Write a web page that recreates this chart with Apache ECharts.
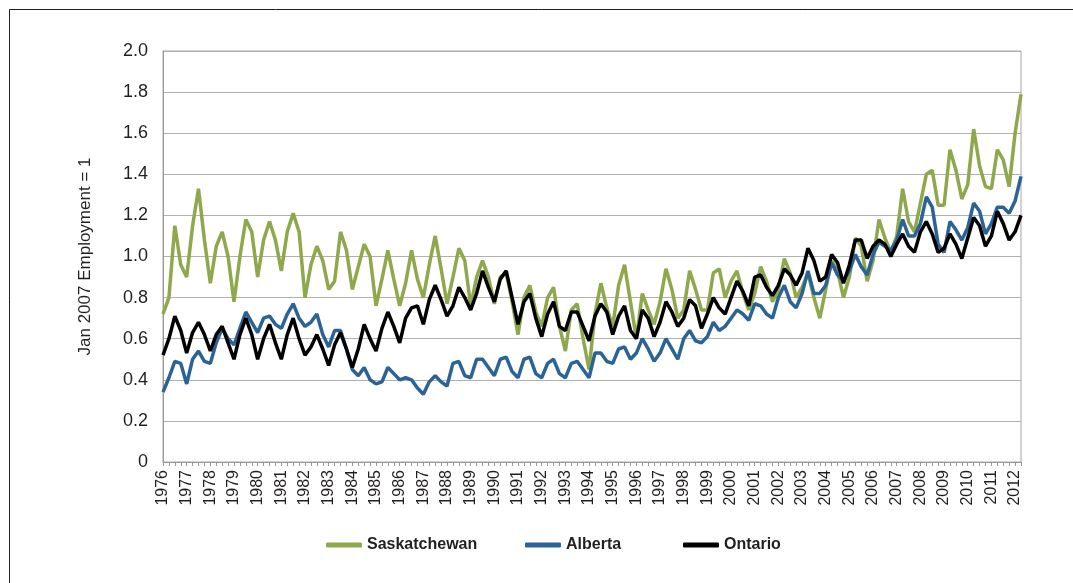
<!DOCTYPE html>
<html lang="en">
<head>
    <meta charset="UTF-8">
    <title>Employment index</title>
    <style>
        html, body { margin: 0; padding: 0; background: #fff; }
    </style>
</head>
<body>
<div id="chart-wrap" style="width: 1073px; height: 583px;"></div>
<script src="https://cdn.jsdelivr.net/npm/echarts/dist/echarts.min.js"></script>
<script>
    // quarterly readings (Jan, Apr, Jul, Oct), Jan 1976 - Apr 2012
    var years = [];
    for (var y = 1976; y <= 2012; y++) years.push(y);
    var months = ['01', '04', '07', '10'];

    var saskatchewan = [
        0.72, 0.80, 1.15, 0.96,  0.90, 1.15, 1.33, 1.08,  0.87, 1.05, 1.12, 1.00,  0.78, 1.00, 1.18, 1.12,
        0.90, 1.08, 1.17, 1.08,  0.93, 1.12, 1.21, 1.12,  0.80, 0.96, 1.05, 0.98,  0.84, 0.88, 1.12, 1.03,
        0.84, 0.95, 1.06, 1.00,  0.76, 0.89, 1.03, 0.89,  0.76, 0.87, 1.03, 0.89,  0.80, 0.96, 1.10, 0.94,
        0.77, 0.90, 1.04, 0.98,  0.76, 0.90, 0.98, 0.90,  0.77, 0.90, 0.92, 0.78,  0.62, 0.80, 0.86, 0.73,
        0.66, 0.80, 0.85, 0.66,  0.54, 0.74, 0.77, 0.60,  0.45, 0.72, 0.87, 0.75,  0.66, 0.86, 0.96, 0.78,
        0.60, 0.82, 0.74, 0.67,  0.78, 0.94, 0.84, 0.70,  0.74, 0.93, 0.84, 0.74,  0.74, 0.92, 0.94, 0.80,
        0.88, 0.93, 0.82, 0.74,  0.82, 0.95, 0.88, 0.78,  0.84, 0.99, 0.92, 0.80,  0.85, 0.92, 0.80, 0.70,
        0.84, 0.98, 0.93, 0.80,  0.90, 1.09, 1.05, 0.88,  0.98, 1.18, 1.09, 1.02,  1.10, 1.33, 1.17, 1.12,
        1.26, 1.40, 1.42, 1.25,  1.25, 1.52, 1.42, 1.28,  1.35, 1.62, 1.44, 1.34,  1.33, 1.52, 1.47, 1.34,
        1.60, 1.79
    ];
    var alberta = [
        0.34, 0.41, 0.49, 0.48,  0.38, 0.50, 0.54, 0.49,  0.48, 0.58, 0.65, 0.60,  0.57, 0.65, 0.73, 0.68,
        0.63, 0.70, 0.71, 0.67,  0.65, 0.72, 0.77, 0.70,  0.66, 0.68, 0.72, 0.62,  0.56, 0.64, 0.64, 0.55,
        0.45, 0.42, 0.46, 0.40,  0.38, 0.39, 0.46, 0.43,  0.40, 0.41, 0.40, 0.36,  0.33, 0.39, 0.42, 0.39,
        0.37, 0.48, 0.49, 0.42,  0.41, 0.50, 0.50, 0.46,  0.42, 0.50, 0.51, 0.44,  0.41, 0.50, 0.51, 0.43,
        0.41, 0.48, 0.50, 0.43,  0.41, 0.48, 0.49, 0.45,  0.41, 0.53, 0.53, 0.49,  0.48, 0.55, 0.56, 0.50,
        0.53, 0.60, 0.55, 0.49,  0.53, 0.60, 0.55, 0.50,  0.60, 0.64, 0.59, 0.58,  0.61, 0.68, 0.64, 0.66,
        0.70, 0.74, 0.72, 0.69,  0.77, 0.76, 0.72, 0.70,  0.80, 0.86, 0.78, 0.75,  0.82, 0.93, 0.82, 0.82,
        0.86, 0.97, 0.91, 0.88,  0.93, 1.01, 0.95, 0.91,  1.01, 1.07, 1.05, 1.03,  1.08, 1.18, 1.10, 1.10,
        1.16, 1.29, 1.24, 1.06,  1.02, 1.17, 1.13, 1.08,  1.14, 1.26, 1.22, 1.11,  1.16, 1.24, 1.24, 1.21,
        1.27, 1.39
    ];
    var ontario = [
        0.52, 0.60, 0.71, 0.64,  0.53, 0.63, 0.68, 0.62,  0.54, 0.62, 0.66, 0.58,  0.50, 0.62, 0.70, 0.62,
        0.50, 0.60, 0.67, 0.58,  0.50, 0.62, 0.70, 0.60,  0.52, 0.56, 0.62, 0.55,  0.47, 0.57, 0.63, 0.55,
        0.46, 0.55, 0.67, 0.60,  0.54, 0.65, 0.73, 0.66,  0.58, 0.70, 0.75, 0.76,  0.67, 0.79, 0.86, 0.79,
        0.71, 0.76, 0.85, 0.80,  0.74, 0.82, 0.93, 0.85,  0.78, 0.89, 0.93, 0.80,  0.67, 0.78, 0.82, 0.70,
        0.61, 0.72, 0.78, 0.66,  0.64, 0.73, 0.73, 0.66,  0.59, 0.71, 0.77, 0.73,  0.62, 0.71, 0.76, 0.64,
        0.60, 0.74, 0.70, 0.61,  0.68, 0.78, 0.73, 0.66,  0.70, 0.79, 0.76, 0.65,  0.72, 0.80, 0.75, 0.72,
        0.80, 0.88, 0.83, 0.76,  0.90, 0.91, 0.85, 0.81,  0.86, 0.94, 0.91, 0.86,  0.92, 1.04, 0.98, 0.88,
        0.90, 1.01, 0.97, 0.87,  0.96, 1.08, 1.08, 0.99,  1.05, 1.08, 1.06, 1.00,  1.06, 1.11, 1.05, 1.02,
        1.12, 1.17, 1.11, 1.02,  1.04, 1.11, 1.06, 0.99,  1.09, 1.19, 1.15, 1.05,  1.10, 1.22, 1.16, 1.08,
        1.12, 1.20
    ];

    var categories = [];
    years.forEach(function (yr) {
        months.forEach(function (m) {
            if (categories.length < saskatchewan.length) categories.push(yr + '-' + m);
        });
    });

    var chart = echarts.init(document.getElementById('chart-wrap'));
    var font = '"Liberation Sans", Arial, sans-serif';
    var ink = '#231f20';

    // one legend per item so each can sit where the original puts it
    function legendAt(name, left) {
        return {
            top: 532, left: left,
            icon: 'roundRect', itemWidth: 36, itemHeight: 5,
            textStyle: {fontFamily: font, fontSize: 16, fontWeight: 'bold', color: ink},
            data: [name]
        };
    }

    var option = {
        animation: false,
        textStyle: {fontFamily: font},
        // outer frame of the figure
        graphic: [{
            type: 'rect',
            silent: true,
            shape: {x: 9.5, y: 9.5, width: 1200, height: 700},
            style: {fill: 'none', stroke: ink, lineWidth: 1}
        }],
        grid: {
            left: 163, right: 52, top: 51, bottom: 121,
            show: true, borderColor: '#a6a6a6', borderWidth: 1
        },
        legend: [
            legendAt('Saskatchewan', 321),
            legendAt('Alberta', 520),
            legendAt('Ontario', 678)
        ],
        xAxis: {
            type: 'category',
            data: categories,
            boundaryGap: false,
            axisLine: {lineStyle: {color: '#9a9a9a'}},
            axisTick: {show: true, interval: 0, length: 4, lineStyle: {color: '#9a9a9a'}},
            axisLabel: {
                interval: 3, rotate: 90, fontSize: 16, color: ink, margin: 8,
                formatter: function (v) { return v.slice(0, 4); }
            },
            splitLine: {show: false}
        },
        yAxis: {
            type: 'value',
            min: 0, max: 2, interval: 0.2,
            name: 'Jan 2007 Employment = 1',
            nameLocation: 'middle', nameGap: 69, nameRotate: 90,
            nameTextStyle: {fontSize: 17, color: ink},
            axisLine: {show: true, lineStyle: {color: '#9a9a9a'}},
            axisTick: {show: false},
            axisLabel: {
                fontSize: 18, color: ink, margin: 15,
                formatter: function (v) { return v === 0 ? '0' : v.toFixed(1); }
            },
            splitLine: {lineStyle: {color: '#b0b0b0', width: 1}}
        },
        series: [
            {name: 'Saskatchewan', type: 'line', data: saskatchewan, showSymbol: false,
                itemStyle: {color: '#8fa84c'}, lineStyle: {width: 3.5, color: '#8fa84c'}},
            {name: 'Alberta', type: 'line', data: alberta, showSymbol: false,
                itemStyle: {color: '#2b6396'}, lineStyle: {width: 3.5, color: '#2b6396'}},
            {name: 'Ontario', type: 'line', data: ontario, showSymbol: false,
                itemStyle: {color: '#000000'}, lineStyle: {width: 3.5, color: '#000000'}}
        ]
    };

    chart.setOption(option);
</script>
</body>
</html>
